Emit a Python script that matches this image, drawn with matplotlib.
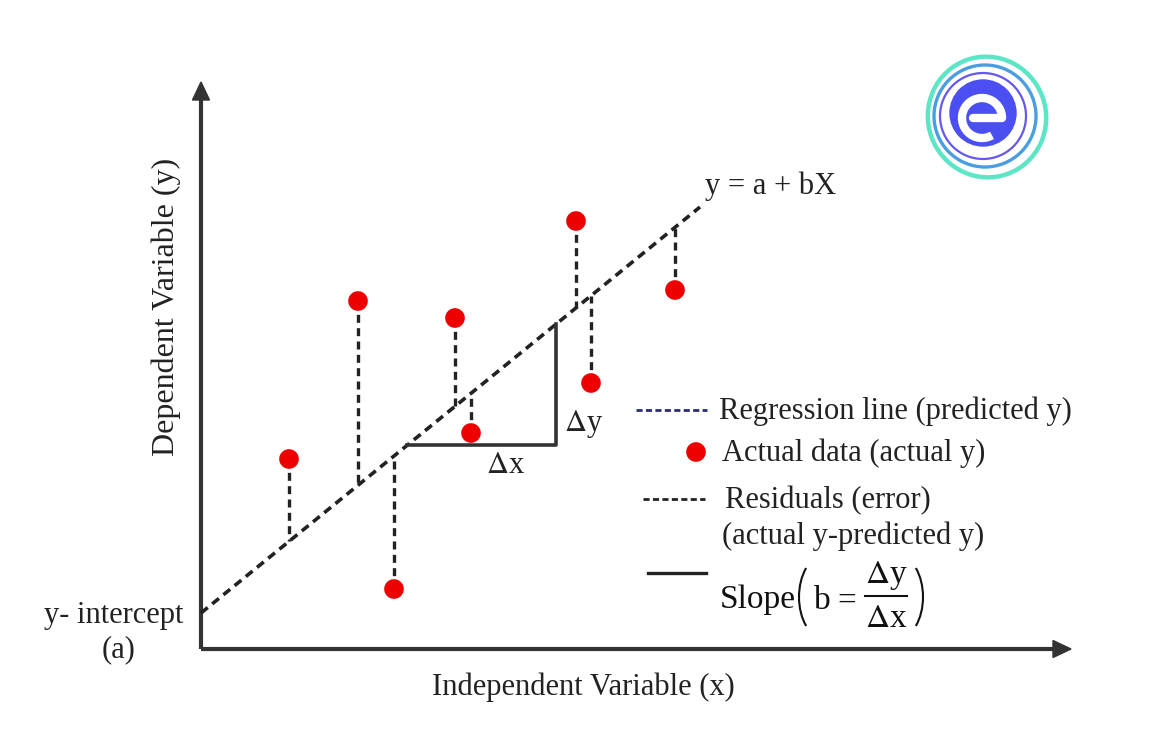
import numpy as np
import matplotlib.pyplot as plt
from matplotlib.patches import Circle, Ellipse, Arc, FancyArrow

plt.rcParams['font.family'] = ['Liberation Serif', 'DejaVu Serif']
plt.rcParams['mathtext.fontset'] = 'stix'

# ── 데이터 (축 원점 기준 단위) ──────────────────────────────
intercept_a = 36
slope_b = 0.8136
line_x_end = 499

point_x = [88, 157, 193, 254, 270, 375, 390, 474]
point_y = [190, 348, 60, 331, 216, 428, 266, 359]

tri_x = [206, 355]          # slope triangle: horizontal span
x_axis_len = 870
y_axis_len = 567

# ── 그림 ──────────────────────────────────────────────────
fig = plt.figure(figsize=(11.55, 7.49), dpi=100)
ax = fig.add_axes([0, 0, 1, 1])
ax.set_xlim(-201, 954)
ax.set_ylim(-100, 649)
ax.set_aspect('equal')
ax.axis('off')

axis_col = '#333333'
txt_col = '#222222'
# axes with arrows
ax.plot([0, 0], [0, y_axis_len - 16], color=axis_col, lw=3, solid_capstyle='butt')
ax.plot([0, x_axis_len - 16], [0, 0], color=axis_col, lw=3, solid_capstyle='butt')
ax.add_patch(FancyArrow(0, y_axis_len - 18, 0, 18, width=0, head_width=17,
                        head_length=18, length_includes_head=True, color=axis_col))
ax.add_patch(FancyArrow(x_axis_len - 18, 0, 18, 0, width=0, head_width=17,
                        head_length=18, length_includes_head=True, color=axis_col))

# regression line
xs = np.array([0, line_x_end])
ax.plot(xs, intercept_a + slope_b * xs, color='#222222', lw=2.6,
        dashes=(2.4, 1.6))

# residuals
for px, py in zip(point_x, point_y):
    pred = intercept_a + slope_b * px
    ax.plot([px, px], [py, pred], color='#222222', lw=2.4, dashes=(2.4, 1.6))

ax.scatter(point_x, point_y, s=200, color='#ee0000', zorder=5, edgecolors='none')

# slope triangle
y0 = intercept_a + slope_b * tri_x[0]
y1 = intercept_a + slope_b * tri_x[1]
ax.plot([tri_x[0], tri_x[1], tri_x[1]], [y0, y0, y1], color='#333333', lw=2.6)

fs = 22
ax.text(tri_x[1] + 8, 225, r'$\Delta$y', fontsize=fs, va='center', ha='left', color=txt_col)
ax.text((tri_x[0] + tri_x[1]) / 2 + 24, y0 - 20, r'$\Delta$x', fontsize=fs, va='center',
        ha='center', color=txt_col)

# labels
ax.text(-35, 342, 'Dependent Variable (y)', fontsize=23, rotation=90, ha='center', va='center',
        color=txt_col)
ax.text(382, -38, 'Independent Variable (x)', fontsize=fs, ha='center', va='center',
        color=txt_col)
ax.text(-87, 33, 'y- intercept', fontsize=fs, ha='center', va='center', color=txt_col)
ax.text(-82, -1, '(a)', fontsize=fs, ha='center', va='center', color=txt_col)
ax.text(504, 463, 'y = a + bX', fontsize=fs, ha='left', va='center', color=txt_col)

# legend
ax.plot([435, 506], [239, 239], color='#2a2a7a', lw=2, dashes=(2.2, 1.2))
ax.text(518, 238, 'Regression line (predicted y)', fontsize=fs, va='center', color=txt_col)
ax.scatter([495], [197], s=200, color='#ee0000', edgecolors='none')
ax.text(521, 196, 'Actual data (actual y)', fontsize=fs, va='center', color=txt_col)
ax.plot([442, 504], [150, 150], color='#222222', lw=2, dashes=(2.2, 1.2))
ax.text(524, 148, 'Residuals (error)', fontsize=fs, va='center', color=txt_col)
ax.text(521, 113, '(actual y-predicted y)', fontsize=fs, va='center', color=txt_col)
ax.plot([447, 505], [76, 76], color='#222222', lw=2.4)

# slope formula
ax.text(519, 49, 'Slope', fontsize=24, va='center', ha='left', color='#111111')
ax.add_patch(Arc((624, 52), 52, 84, theta1=123, theta2=237, color='#111111', lw=1.5))
ax.text(621, 48, 'b', fontsize=24, va='center', ha='center', color='#111111')
ax.text(646, 48, '=', fontsize=24, va='center', ha='center', color='#111111')
ax.plot([664, 706], [53, 53], color='#111111', lw=1.5)
ax.text(685, 73, r'$\Delta$y', fontsize=24, va='center', ha='center', color='#111111')
ax.text(685, 30, r'$\Delta$x', fontsize=24, va='center', ha='center', color='#111111')
ax.add_patch(Arc((696, 52), 52, 84, theta1=-57, theta2=57, color='#111111', lw=1.5))

# logo
ax.add_patch(Ellipse((786, 532), 118, 121, angle=20, fill=False, ec='#5de6c6', lw=3.2))
ax.add_patch(Circle((784, 533), 51, fill=False, ec='#4a9ee0', lw=2.4))
ax.add_patch(Circle((782, 533), 43, fill=False, ec='#6658ee', lw=1.6))
ax.add_patch(Circle((782, 536), 33, color='#4b4ff2'))
ax.add_patch(Arc((781, 531), 40, 40, theta1=0, theta2=300, color='white', lw=6))
ax.plot([772, 801], [531, 531], color='white', lw=6, solid_capstyle='round')

fig.savefig('out.png', dpi=100, facecolor='white')
